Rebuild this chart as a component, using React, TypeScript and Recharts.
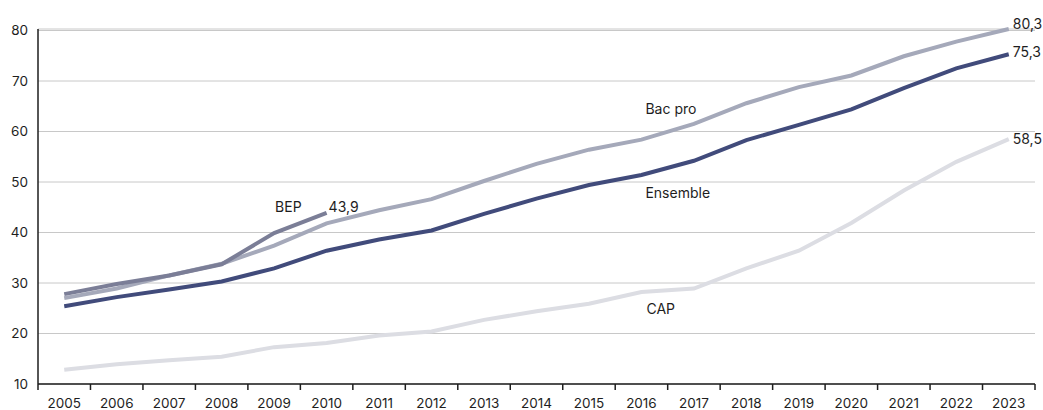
import React from "react";
import { LineChart, Line, XAxis, YAxis, CartesianGrid } from "recharts";

const years = [
  "2005", "2006", "2007", "2008", "2009", "2010", "2011", "2012", "2013", "2014",
  "2015", "2016", "2017", "2018", "2019", "2020", "2021", "2022", "2023",
];
const ensemble = [25.4, 27.2, 28.7, 30.3, 32.9, 36.4, 38.6, 40.4, 43.7, 46.7, 49.4, 51.4, 54.2, 58.3, 61.3, 64.4, 68.6, 72.5, 75.3];
const bacPro = [27.0, 28.9, 31.5, 33.8, 37.4, 41.8, 44.4, 46.6, 50.2, 53.6, 56.4, 58.4, 61.5, 65.6, 68.8, 71.1, 74.9, 77.8, 80.3];
const bep = [27.8, 29.8, 31.5, 33.7, 39.9, 43.9];
const cap = [12.8, 13.9, 14.7, 15.4, 17.3, 18.1, 19.6, 20.4, 22.7, 24.4, 25.9, 28.2, 28.9, 32.9, 36.4, 41.9, 48.3, 54.0, 58.5];
const yTicks = [10, 20, 30, 40, 50, 60, 70, 80];

const data = years.map((year, i) => ({
  year,
  ensemble: ensemble[i],
  bacPro: bacPro[i],
  bep: i < bep.length ? bep[i] : null,
  cap: cap[i],
}));

const W = 1043;
const H = 410;
const MARGIN = { top: 29, right: 8, bottom: 0, left: 0 };
const Y_W = 38;
const PLOT_W = W - MARGIN.left - MARGIN.right - Y_W;
const HALF_BAND = PLOT_W / years.length / 2;

const FONT = "Inter, 'Open Sans', sans-serif";
const INK = "#1e1e1e";

const fmt = (v: number) => String(v).replace(".", ",");

type Note = { index: number; text?: string; dx: number; dy: number; anchor?: "start" | "end" };

const makeLabel = (notes: Note[]) => (props: any) => {
  const { x, y, index, value } = props;
  const found = notes.filter((n) => n.index === index);
  if (!found.length) return <g key={`e-${index}`} />;
  return (
    <g key={`l-${index}`}>
      {found.map((n, k) => (
        <text
          key={k}
          x={x + n.dx}
          y={y + n.dy}
          textAnchor={n.anchor ?? "start"}
          dominantBaseline="central"
          fontSize={14}
          fontFamily={FONT}
          fill={INK}
        >
          {n.text ?? fmt(value)}
        </text>
      ))}
    </g>
  );
};

const YearTick = (props: any) => {
  const { x, y, payload, index, width, visibleTicksCount } = props;
  const n = visibleTicksCount || years.length;
  const band = width ? width / n : HALF_BAND * 2;
  const top = y - 8;
  return (
    <g>
      <line x1={x - band / 2} x2={x - band / 2} y1={top} y2={top + 6} stroke={INK} strokeWidth={1.5} />
      {index === n - 1 && (
        <line x1={x + band / 2} x2={x + band / 2} y1={top} y2={top + 6} stroke={INK} strokeWidth={1.5} />
      )}
      <text x={x} y={y + 16} textAnchor="middle" fontSize={13.5} fontFamily={FONT} fill={INK}>
        {payload.value}
      </text>
    </g>
  );
};

export default function App() {
  return (
    <div style={{ position: "fixed", top: 0, left: 0, width: W, height: H, background: "#fff" }}>
      <LineChart width={W} height={H} data={data} margin={MARGIN}>
        <CartesianGrid vertical={false} stroke="#c8c8c8" strokeWidth={1} />
        <XAxis
          dataKey="year"
          interval={0}
          height={26}
          padding={{ left: HALF_BAND, right: HALF_BAND }}
          axisLine={{ stroke: INK, strokeWidth: 1.5 }}
          tickLine={false}
          tickSize={6}
          tickMargin={2}
          tick={<YearTick />}
        />
        <YAxis
          width={Y_W}
          domain={[10, 80]}
          ticks={yTicks}
          interval={0}
          axisLine={{ stroke: INK, strokeWidth: 1.5 }}
          tickLine={false}
          tickMargin={4}
          tick={{ fontSize: 13.5, fontFamily: FONT, fill: INK }}
        />
        <Line
          dataKey="cap"
          stroke="#dcdde3"
          strokeWidth={4}
          dot={false}
          isAnimationActive={false}
          label={makeLabel([
            { index: 18, dx: 4, dy: -1 },
            { index: 11, text: "CAP", dx: 5, dy: 16 },
          ])}
        />
        <Line
          dataKey="bacPro"
          stroke="#a5a9ba"
          strokeWidth={4}
          dot={false}
          isAnimationActive={false}
          label={makeLabel([
            { index: 18, dx: 4, dy: -6 },
            { index: 11, text: "Bac pro", dx: 4, dy: -31 },
          ])}
        />
        <Line
          dataKey="bep"
          stroke="#7b7e97"
          strokeWidth={4}
          dot={false}
          isAnimationActive={false}
          label={makeLabel([
            { index: 5, dx: 2, dy: -6 },
            { index: 5, text: "BEP", dx: -25, dy: -6, anchor: "end" },
          ])}
        />
        <Line
          dataKey="ensemble"
          stroke="#414b7b"
          strokeWidth={4}
          dot={false}
          isAnimationActive={false}
          label={makeLabel([
            { index: 18, dx: 4, dy: -3 },
            { index: 11, text: "Ensemble", dx: 4, dy: 18 },
          ])}
        />
      </LineChart>
    </div>
  );
}
